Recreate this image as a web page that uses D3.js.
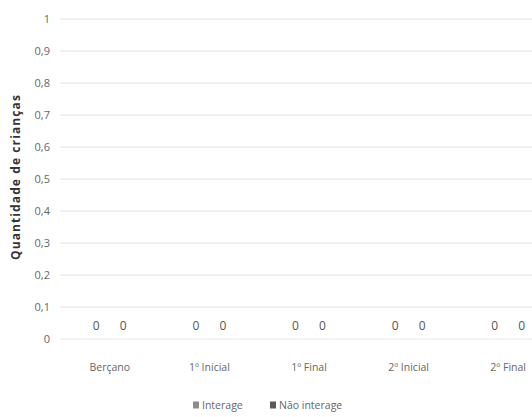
<!DOCTYPE html>
<html>
<head>
<meta charset="utf-8">
<script src="https://cdn.jsdelivr.net/npm/d3@7"></script>
<style>
    body { margin: 0; background: #fff; }
    #chart { width: 532px; height: 417px; }
    text { font-family: "Open Sans", "Noto Sans", sans-serif; }
</style>
</head>
<body>
<div id="chart"></div>
<script>
let categories = ["Berçano", "1º Inicial", "1º Final", "2º Inicial", "2º Final"];
let interage = [0, 0, 0, 0, 0];
let naoInterage = [0, 0, 0, 0, 0];
let yTicks = [0, 0.1, 0.2, 0.3, 0.4, 0.5, 0.6, 0.7, 0.8, 0.9, 1];
let seriesNames = ["Interage", "Não interage"];
let seriesColors = ["#8c8c8c", "#5a5a5a"];

let svg = d3.select("#chart")
    .append("svg")
    .attr("width", 532)
    .attr("height", 417);

let x = d3.scaleBand()
    .domain(categories)
    .range([60, 558]);

// two bars per category, centres about 27px apart
let x1 = d3.scaleBand()
    .domain(seriesNames)
    .range([0, 54]);

let y = d3.scaleLinear()
    .domain([0, 1])
    .range([339, 19]);

// gridlines
svg.append("g")
    .selectAll("line")
    .data(yTicks.filter(d => d > 0))
    .join("line")
    .attr("x1", 60)
    .attr("x2", 532)
    .attr("y1", d => y(d))
    .attr("y2", d => y(d))
    .attr("stroke", "#e2e2e2")
    .attr("stroke-width", 1);

// baseline
svg.append("line")
    .attr("x1", 60)
    .attr("x2", 532)
    .attr("y1", y(0))
    .attr("y2", y(0))
    .attr("stroke", "#e6e6e6");

// y tick labels
svg.append("g")
    .selectAll("text")
    .data(yTicks)
    .join("text")
    .attr("x", 50)
    .attr("y", d => y(d))
    .attr("dy", "0.35em")
    .attr("text-anchor", "end")
    .attr("font-size", 11)
    .attr("fill", "#666")
    .text(d => String(d).replace(".", ","));

// y axis title
svg.append("text")
    .attr("transform", "translate(20," + 177 + ") rotate(-90)")
    .attr("text-anchor", "middle")
    .attr("font-size", 12)
    .attr("font-weight", "bold")
    .attr("letter-spacing", 1.1)
    .attr("fill", "#333")
    .text("Quantidade de crianças");

// bars + value labels
let series = [interage, naoInterage];
let groups = svg.append("g")
    .selectAll("g")
    .data(categories)
    .join("g")
    .attr("transform", d => "translate(" + (x(d) + x.bandwidth() / 2 - 27) + ",0)");

groups.selectAll("rect")
    .data((d, i) => series.map((s, k) => ({name: seriesNames[k], value: s[i], k: k})))
    .join("rect")
    .attr("x", d => x1(d.name) + 4)
    .attr("width", x1.bandwidth() - 8)
    .attr("y", d => y(d.value))
    .attr("height", d => y(0) - y(d.value))
    .attr("fill", d => seriesColors[d.k]);

groups.selectAll("text")
    .data((d, i) => series.map((s, k) => ({name: seriesNames[k], value: s[i]})))
    .join("text")
    .attr("x", d => x1(d.name) + x1.bandwidth() / 2)
    .attr("y", d => y(d.value) - 13)
    .attr("dy", "0.35em")
    .attr("text-anchor", "middle")
    .attr("font-size", 12)
    .attr("fill", "#555")
    .text(d => d.value);

// x labels
svg.append("g")
    .selectAll("text")
    .data(categories)
    .join("text")
    .attr("x", d => x(d) + x.bandwidth() / 2)
    .attr("y", 367)
    .attr("dy", "0.35em")
    .attr("text-anchor", "middle")
    .attr("font-size", 10.5)
    .attr("fill", "#666")
    .text(d => d);

// legend
let legend = svg.append("g").attr("transform", "translate(193,405)");
let offsets = [0, 77];
seriesNames.forEach(function (name, i) {
    let g = legend.append("g").attr("transform", "translate(" + offsets[i] + ",0)");
    g.append("rect")
        .attr("x", 0)
        .attr("y", -3.5)
        .attr("width", 6)
        .attr("height", 7)
        .attr("fill", seriesColors[i]);
    g.append("text")
        .attr("x", 9)
        .attr("y", 0)
        .attr("dy", "0.35em")
        .attr("font-size", 10.5)
        .attr("fill", "#666")
        .text(name);
});
</script>
</body>
</html>
